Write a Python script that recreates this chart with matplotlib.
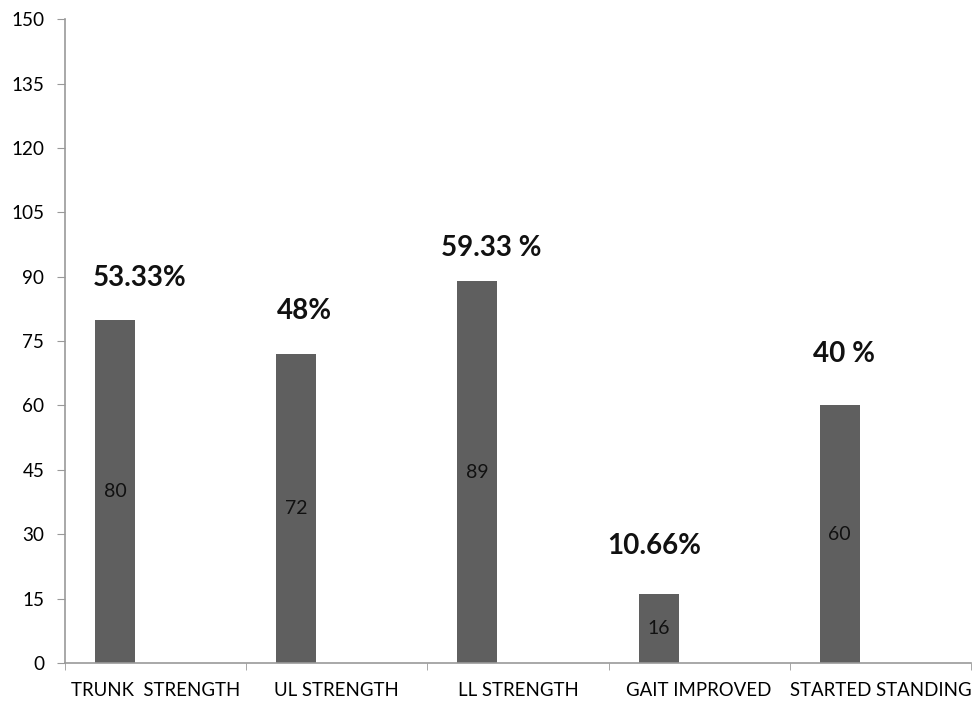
import matplotlib.pyplot as plt

categories = ['TRUNK  STRENGTH', 'UL STRENGTH', 'LL STRENGTH', 'GAIT IMPROVED', 'STARTED STANDING']
values = [80, 72, 89, 16, 60]
pct_labels = ['53.33%', '48%', '59.33 %', '10.66%', '40 %']
# label anchor points (x in category units, y in data units)
pct_x = [0.41, 1.32, 2.35, 3.25, 4.30]
pct_y = [89.7, 82, 96.7, 27.3, 72]

plt.rcParams['font.family'] = ['Lato', 'DejaVu Sans']

fig = plt.figure(figsize=(9.72, 7.09), dpi=100)
ax = fig.add_axes([0.0669, 0.0649, 0.932, 0.908])

pos = [i + 0.276 for i in range(len(values))]
bars = ax.bar(pos, values, width=0.22, color='#5f5f5f')

for p, v in zip(pos, values):
    ax.text(p, v / 2, str(v), ha='center', va='center', fontsize=14, color='#111111')

for x, y, t in zip(pct_x, pct_y, pct_labels):
    ax.text(x, y, t, ha='center', va='center', fontsize=20, fontweight='bold', color='#111111')

ax.set_xlim(0, 5)
ax.set_ylim(0, 150)
ax.set_yticks(range(0, 151, 15))
ax.set_xticks([i + 0.5 for i in range(5)])
ax.set_xticklabels(categories)
ax.set_xticks(range(6), minor=True)
ax.tick_params(axis='x', which='major', length=0, pad=14, labelsize=13.4)
ax.tick_params(axis='x', which='minor', length=5, color='#999999', direction='out')
ax.tick_params(axis='y', length=6, color='#999999', labelsize=13.6, pad=9)

for s in ['top', 'right']:
    ax.spines[s].set_visible(False)
for s in ['left', 'bottom']:
    ax.spines[s].set_color('#999999')
    ax.spines[s].set_linewidth(1.2)

fig.savefig('out.png', dpi=100)
